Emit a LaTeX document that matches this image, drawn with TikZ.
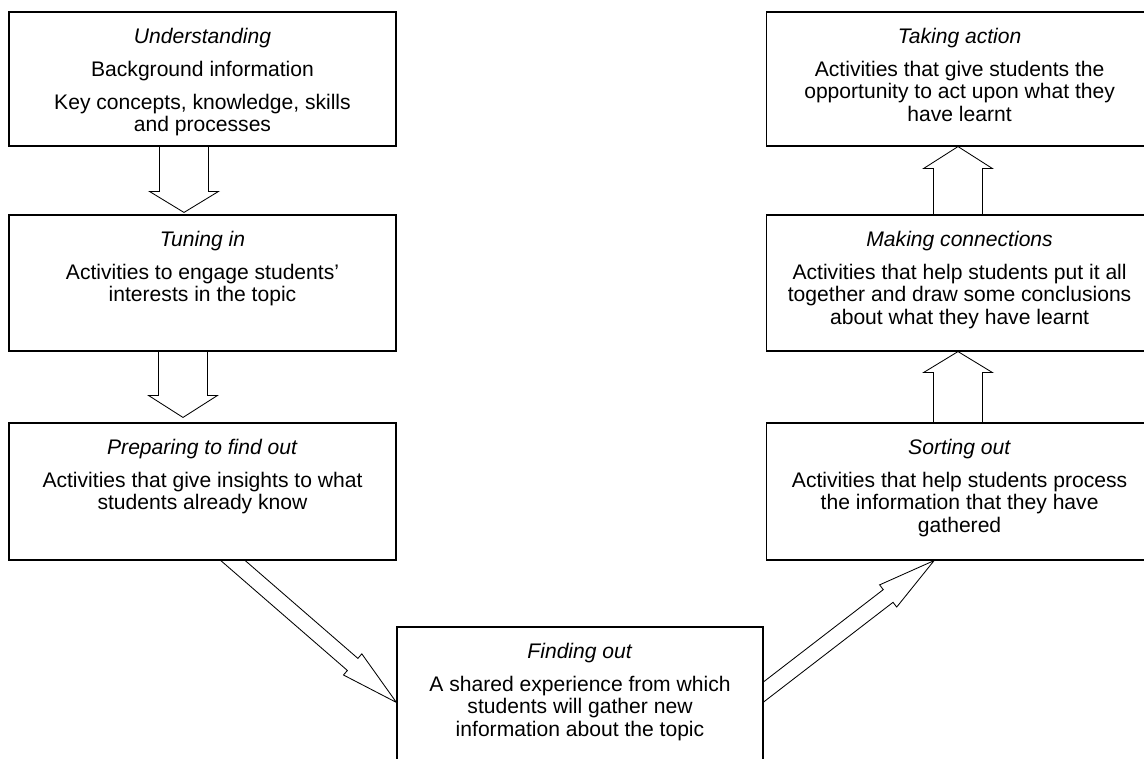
\documentclass[tikz,border=0pt]{standalone}
\usepackage{fontspec}
\setmainfont{Liberation Sans}
\usetikzlibrary{calc,backgrounds}

\tikzset{
every picture/.style={
line width=0.8pt
}}

% outlined fat arrow: from, to, shaft half width, head half width, head length
\newcommand{\blockarrow}[5]{
\coordinate (ba-a) at (#1);
\coordinate (ba-b) at (#2);
\coordinate (ba-s) at ($(ba-a)!-0.4cm!(ba-b)$);
\coordinate (ba-h) at ($(ba-b)!#5!(ba-a)$);
\draw[fat] ($(ba-s)!#3!90:(ba-b)$) -- ($(ba-h)!#3!90:(ba-b)$) -- ($(ba-h)!#4!90:(ba-b)$) -- (ba-b)
  -- ($(ba-h)!#4!-90:(ba-b)$) -- ($(ba-h)!#3!-90:(ba-b)$) -- ($(ba-s)!#3!-90:(ba-b)$) -- cycle;
}

% box text: width, height, title, body
\newcommand{\stagetext}[4]{\parbox[c][#2][t]{#1}{\setlength{\parskip}{7.5pt}\centering\vspace*{0.12cm}\strut\textit{#3}\par #4}}

\begin{document}
\begin{tikzpicture}[
stage/.style = {rectangle, draw=black, fill=white, inner sep=0pt, font=\fontsize{15}{16}\selectfont},
fat/.style = {draw=black, line width=0.6pt, fill=white, line join=miter}]
\useasboundingbox (0,0) rectangle (28.6,-18.95);

\node[stage] (und) at (5.0625,-1.975) {\stagetext{9.675cm}{3.35cm}{Understanding}{Background information\par Key concepts, knowledge, skills\\ and processes}};
\node[stage] (tun) at (5.0625,-7.075) {\stagetext{9.675cm}{3.4cm}{Tuning in}{Activities to engage students'\\ interests in the topic}};
\node[stage] (prep) at (5.0625,-12.2875) {\stagetext{9.675cm}{3.425cm}{Preparing to find out}{Activities that give insights to what\\ students already know}};

\node[stage] (find) at (14.5,-17.55) {\stagetext{9.15cm}{3.75cm}{Finding out}{A shared experience from which\\ students will gather new\\ information about the topic}};

\node[stage] (sort) at (23.99,-12.2875) {\stagetext{9.675cm}{3.425cm}{Sorting out}{Activities that help students process\\ the information that they have\\ gathered}};
\node[stage] (conn) at (23.99,-7.075) {\stagetext{9.675cm}{3.4cm}{Making connections}{Activities that help students put it all\\ together and draw some conclusions\\ about what they have learnt}};
\node[stage] (act) at (23.99,-1.975) {\stagetext{9.675cm}{3.35cm}{Taking action}{Activities that give students the\\ opportunity to act upon what they\\ have learnt}};

\begin{scope}[on background layer]
\blockarrow{$(und.south)+(-0.4625,0)$}{$(tun.north)+(-0.4625,0.05)$}{0.6125cm}{0.8625cm}{0.525cm}
\blockarrow{$(tun.south)+(-0.4875,0)$}{$(prep.north)+(-0.4875,0.125)$}{0.6125cm}{0.8625cm}{0.55cm}
\blockarrow{$(prep.south)+(0.7625,0)$}{$(find.north west)+(0,-1.9)$}{0.2cm}{0.35cm}{1.45cm}
\blockarrow{$(find.north east)+(0,-1.6375)$}{$(sort.south)+(-0.6375,0)$}{0.2cm}{0.35cm}{1.45cm}
\blockarrow{$(sort.north)+(-0.04,0)$}{$(conn.south)+(-0.04,0)$}{0.6125cm}{0.8625cm}{0.525cm}
\blockarrow{$(conn.north)+(-0.04,0)$}{$(act.south)+(-0.04,0)$}{0.6125cm}{0.8625cm}{0.55cm}
\end{scope}
\end{tikzpicture}
\end{document}
